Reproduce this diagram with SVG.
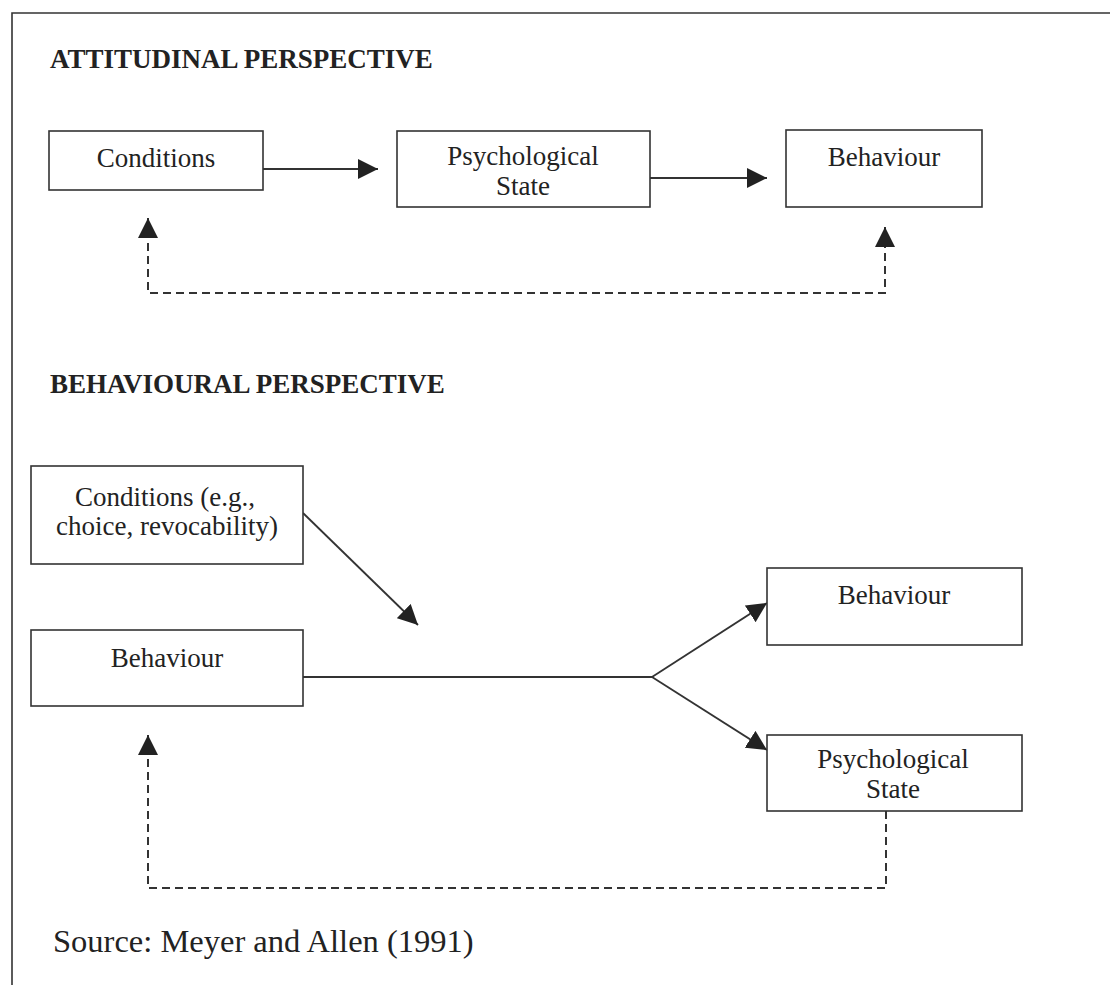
<svg xmlns="http://www.w3.org/2000/svg" width="1117" height="985" viewBox="0 0 1117 985">
<defs>
<style>
.box{fill:#fff;stroke:#333;stroke-width:1.6}
.lbl{font-family:"Liberation Serif","Times New Roman",serif;font-size:27px;fill:#222;text-anchor:middle}
.title{font-family:"Liberation Serif","Times New Roman",serif;font-size:27px;font-weight:bold;fill:#222}
.src{font-family:"Liberation Serif","Times New Roman",serif;font-size:32.5px;fill:#222}
.solid{fill:none;stroke:#333;stroke-width:1.8}
.dash{fill:none;stroke:#333;stroke-width:2;stroke-dasharray:8 5}
.frame{fill:none;stroke:#333;stroke-width:1.6}
</style>
<marker id="ah" markerUnits="userSpaceOnUse" markerWidth="20" markerHeight="20" refX="20" refY="10" orient="auto-start-reverse" viewBox="0 0 20 20">
<path d="M0,0 L20,10 L0,20 Z" fill="#222"/>
</marker>
</defs>
<rect width="1117" height="985" fill="#fff"/>
<path class="frame" d="M12,985 L12,13 L1110,13"/>
<text class="title" x="50" y="68">ATTITUDINAL PERSPECTIVE</text>
<text class="title" x="50" y="393">BEHAVIOURAL PERSPECTIVE</text>
<g id="connectors">
<line class="solid" x1="263" y1="169" x2="378" y2="169" marker-end="url(#ah)"/>
<line class="solid" x1="650" y1="178" x2="767" y2="178" marker-end="url(#ah)"/>
<path class="dash" d="M885,227 L885,293 L148,293 L148,218" marker-start="url(#ah)" marker-end="url(#ah)"/>
<line class="solid" x1="303" y1="513" x2="418" y2="625" marker-end="url(#ah)"/>
<line class="solid" x1="303" y1="677" x2="652" y2="677"/>
<line class="solid" x1="652" y1="677" x2="767" y2="603" marker-end="url(#ah)"/>
<line class="solid" x1="652" y1="677" x2="767" y2="750" marker-end="url(#ah)"/>
<path class="dash" d="M886,811 L886,888 L148,888 L148,735" marker-end="url(#ah)"/>
</g>
<g id="att-conditions">
<rect class="box" x="49" y="131" width="214" height="59"/>
<text class="lbl" x="156" y="167">Conditions</text>
</g>
<g id="att-psych">
<rect class="box" x="397" y="131" width="253" height="76"/>
<text class="lbl" x="523" y="165">Psychological</text>
<text class="lbl" x="523" y="195">State</text>
</g>
<g id="att-behaviour">
<rect class="box" x="786" y="130" width="196" height="77"/>
<text class="lbl" x="884" y="166">Behaviour</text>
</g>
<g id="beh-conditions">
<rect class="box" x="31" y="466" width="272" height="98"/>
<text class="lbl" x="165" y="506">Conditions (e.g.,</text>
<text class="lbl" x="167" y="535">choice, revocability)</text>
</g>
<g id="beh-behaviour">
<rect class="box" x="31" y="630" width="272" height="76"/>
<text class="lbl" x="167" y="667">Behaviour</text>
</g>
<g id="beh-behaviour-out">
<rect class="box" x="767" y="568" width="255" height="77"/>
<text class="lbl" x="894" y="604">Behaviour</text>
</g>
<g id="beh-psych-out">
<rect class="box" x="767" y="735" width="255" height="76"/>
<text class="lbl" x="893" y="768">Psychological</text>
<text class="lbl" x="893" y="798">State</text>
</g>
<text class="src" x="53" y="952">Source: Meyer and Allen (1991)</text>
</svg>
